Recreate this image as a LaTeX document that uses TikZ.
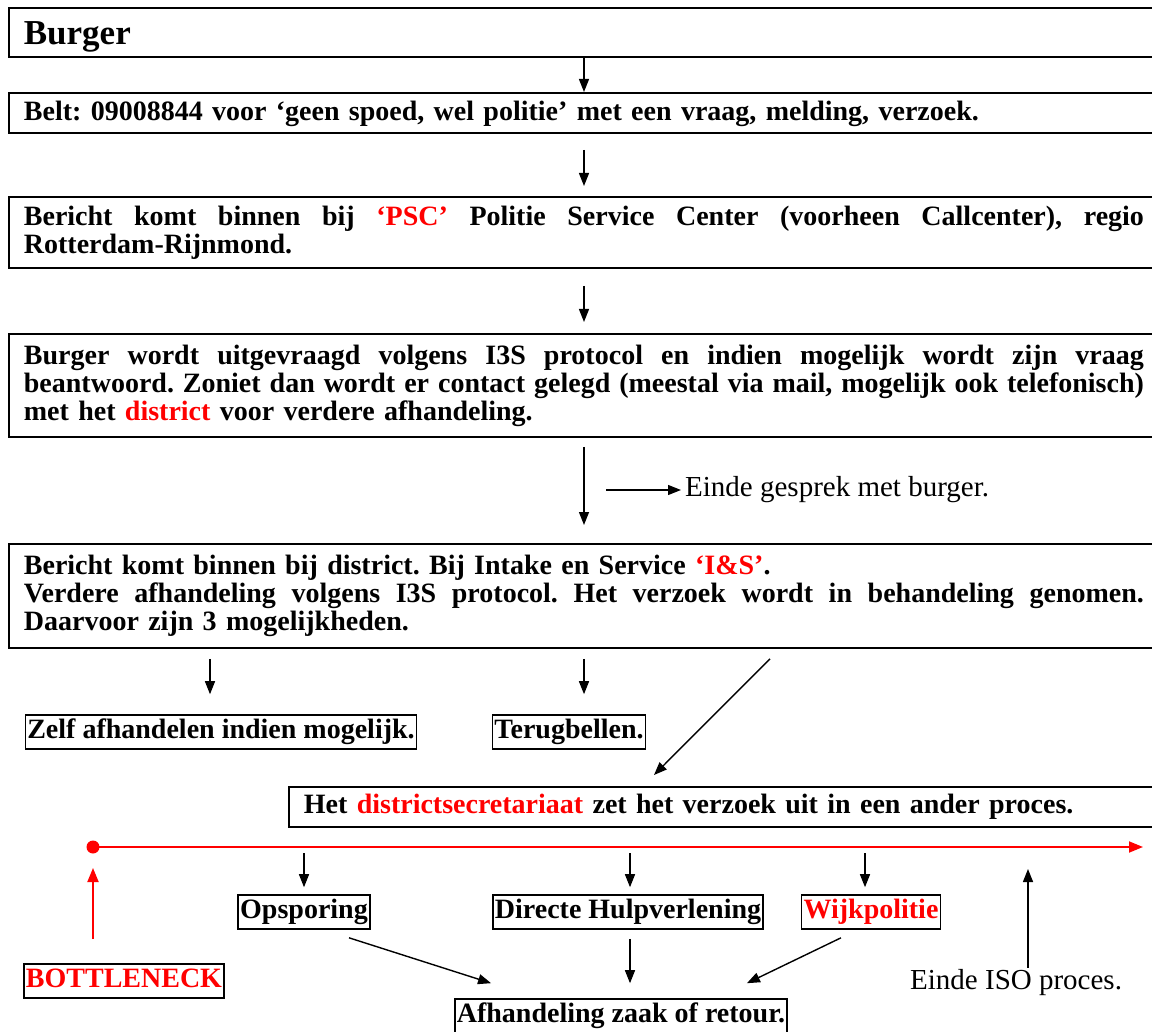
\documentclass[tikz,border=0pt]{standalone}
\usepackage{fontspec}
\setmainfont{Liberation Serif}
\usepackage{tikz}
\usetikzlibrary{positioning,calc,arrows.meta}
\frenchspacing
\newcommand{\volregel}[1]{\leavevmode\hbox to 1120pt{\spaceskip=0pt\xspaceskip=0pt #1}}

\begin{document}
\begin{tikzpicture}[x=1pt,y=-1pt,
    blok/.style={draw,line width=1.8pt,anchor=north west,text width=1120pt,inner xsep=15pt,inner ysep=0pt,align=left,font=\fontsize{28}{28}\selectfont\bfseries},
    kader/.style={draw,line width=1.6pt,inner xsep=2pt,inner ysep=3pt,text height=20pt,text depth=8pt,font=\fontsize{28}{28}\selectfont\bfseries},
    notitie/.style={anchor=west,inner sep=0pt,font=\fontsize{29}{30}\selectfont},
    pijl/.style={line width=1.4pt,-{Triangle[length=13pt,width=10pt]}},
    rodepijl/.style={red,line width=1.8pt,-{Triangle[length=14pt,width=11pt]}}]

\useasboundingbox (0,0) rectangle (1152,1032);
\clip (0,0) rectangle (1152,1032);

\coordinate (k1) at (210,0);
\coordinate (k2) at (584,0);
\coordinate (k3) at (770,0);
\coordinate (k4) at (304,0);
\coordinate (k5) at (630,0);
\coordinate (k6) at (865,0);
\coordinate (k7) at (1028,0);

\node[blok,minimum height=49pt,text height=24pt,text depth=0pt,font=\fontsize{35}{36}\selectfont\bfseries] (burger) at (8,7) {Burger};

\node[blok,minimum height=40pt,text height=19pt,text depth=4pt] (belt) at (8,92) {Belt: 09008844 voor ‘geen spoed, wel politie’ met een vraag, melding, verzoek.};

\node[blok,minimum height=71pt] (psc) at (8,196) {\volregel{Bericht komt binnen bij \textcolor{red}{‘PSC’} Politie Service Center (voorheen Callcenter), regio}\\
Rotterdam-Rijnmond.};

\node[blok,minimum height=103pt] (uitvraag) at (8,333) {\volregel{Burger wordt uitgevraagd volgens I3S protocol en indien mogelijk wordt zijn vraag}\\
\volregel{beantwoord. Zoniet dan wordt er contact gelegd (meestal via mail, mogelijk ook telefonisch)}\\
met het \textcolor{red}{district} voor verdere afhandeling.};

\node[notitie] (eindegesprek) at (685,490) {Einde gesprek met burger.};

\node[blok,minimum height=104pt] (intake) at (8,543) {Bericht komt binnen bij district. Bij Intake en Service \textcolor{red}{‘I\&S’}.\\
\volregel{Verdere afhandeling volgens I3S protocol. Het verzoek wordt in behandeling genomen.}\\
Daarvoor zijn 3 mogelijkheden.};

\node[kader] (zelf) at (221,732) {Zelf afhandelen indien mogelijk.};
\node[kader] (terug) at (569,732) {Terugbellen.};

\node[blok,minimum height=40pt,text width=900pt] (secr) at (288,786) {Het \textcolor{red}{districtsecretariaat} zet het verzoek uit in een ander proces.};

\coordinate (start) at (93,847);
\coordinate (eind) at (1143,847);

\node[kader] (opspor) at (304,912) {Opsporing};
\node[kader] (hulp) at (628,912) {Directe Hulpverlening};
\node[kader,text=red] (wijk) at (871,912) {Wijkpolitie};
\node[kader,text=red] (bottle) at (124,981) {BOTTLENECK};
\node[kader] (afh) at (621,1016) {Afhandeling zaak of retour.};
\node[notitie] (eindeiso) at (910,983) {Einde ISO proces.};

\draw[pijl] (burger.south -| k2) -- (belt.north -| k2);
\draw[pijl] ($(belt.south -| k2)+(0,16)$) -- ($(psc.north -| k2)+(0,-10)$);
\draw[pijl] ($(psc.south -| k2)+(0,17)$) -- ($(uitvraag.north -| k2)+(0,-11)$);
\draw[pijl] ($(uitvraag.south -| k2)+(0,9)$) -- ($(intake.north -| k2)+(0,-18)$);
\draw[pijl] ($(eindegesprek.west)+(-79,0)$) -- ($(eindegesprek.west)+(-4,0)$);

\draw[pijl] ($(intake.south -| k1)+(0,10)$) -- ($(zelf.north -| k1)+(0,-20)$);
\draw[pijl] ($(intake.south -| k2)+(0,10)$) -- ($(terug.north -| k2)+(0,-20)$);
\draw[pijl] ($(intake.south -| k3)+(0,10)$) -- ($(secr.north west)+(366,-11)$);

\draw[rodepijl] (start) -- (eind);
\fill[red] (start) circle (6.5pt);
\draw[rodepijl] ($(bottle.north -| start)+(0,-24)$) -- ($(start)+(0,21)$);

\draw[pijl] ($(start -| k4)+(0,6)$) -- ($(opspor.north -| k4)+(0,-7)$);
\draw[pijl] ($(start -| k5)+(0,6)$) -- ($(hulp.north -| k5)+(0,-7)$);
\draw[pijl] ($(start -| k6)+(0,6)$) -- ($(wijk.north -| k6)+(0,-7)$);

\draw[pijl] ($(opspor.south)+(45,8)$) -- ($(afh.north west)+(37,-15)$);
\draw[pijl] ($(hulp.south -| k5)+(0,9)$) -- ($(afh.north -| k5)+(0,-15)$);
\draw[pijl] ($(wijk.south)+(-30,8)$) -- ($(afh.north east)+(-41,-15)$);
\draw[pijl] ($(eindeiso.north -| k7)+(0,-2)$) -- ($(eind -| k7)+(0,22)$);

\end{tikzpicture}
\end{document}
